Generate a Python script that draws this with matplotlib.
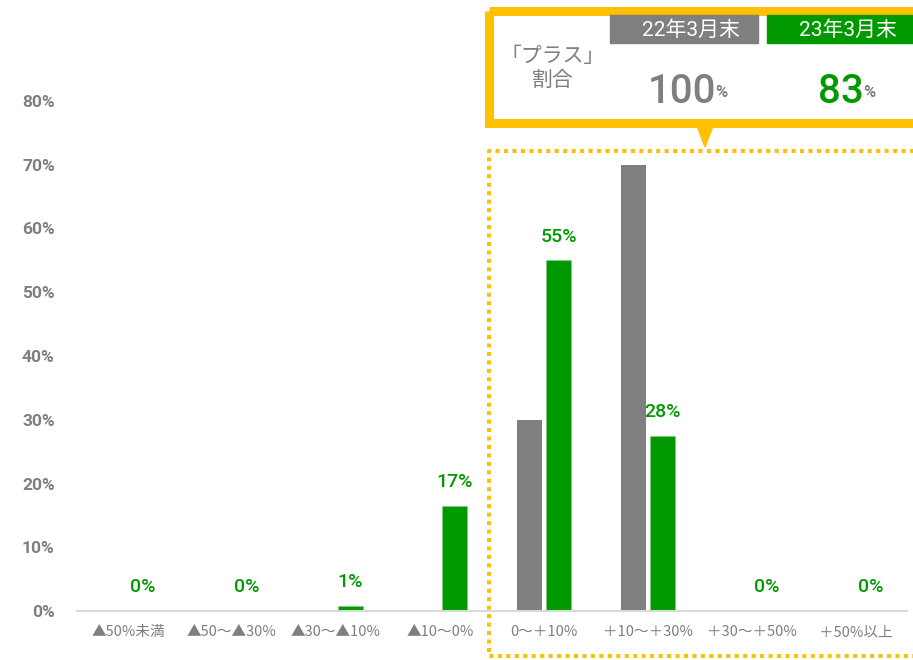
import matplotlib
matplotlib.use('Agg')
import matplotlib.pyplot as plt
from matplotlib.patches import Rectangle, Polygon
import numpy as np

plt.rcParams['font.family'] = ['Roboto', 'Noto Sans CJK JP', 'DejaVu Sans']

# データ
categories = ['▲50%未満', '▲50～▲30%', '▲30～▲10%', '▲10～0%',
              '0～＋10%', '＋10～＋30%', '＋30～＋50%', '＋50%以上']
mar22 = [0, 0, 0, 0, 30, 70, 0, 0]
mar23 = [0, 0, 0.8, 16.5, 55, 27.5, 0, 0]
mar23_labels = ['0%', '0%', '1%', '17%', '55%', '28%', '0%', '0%']
series_names = ['22年3月末', '23年3月末']
plus_share = ['100', '83']

GRAY = '#7f7f7f'
GREEN = '#009900'
YELLOW = '#ffc000'

fig = plt.figure(figsize=(9.13, 6.6), dpi=100)
W, H = 913, 660
ax = fig.add_axes([77 / W, 49 / H, (907 - 77) / W, 510 / H])

x = np.arange(len(categories))
w = 0.24
ax.bar(x - 0.14, mar22, w, color=GRAY)
ax.bar(x + 0.14, mar23, w, color=GREEN, edgecolor='#7fd07f', linewidth=0.6)

for xi, v, lab in zip(x, mar23, mar23_labels):
    ax.annotate(lab, (xi + 0.14, v), xytext=(0, 17), textcoords='offset points',
                ha='center', va='center', color=GREEN, fontsize=14,
                fontweight='medium')

ax.set_xlim(-0.49, 7.49)
ax.set_ylim(0, 80)
ax.set_yticks(np.arange(0, 81, 10))
ax.set_yticklabels([f'{v}%' for v in range(0, 81, 10)], color=GRAY,
                   fontsize=12.5, fontweight='bold')
ax.set_xticks(x)
ax.set_xticklabels(categories, color=GRAY, fontsize=10.5,
                   family=['Noto Sans CJK JP', 'DejaVu Sans'])
ax.tick_params(axis='y', length=0, pad=16)
ax.tick_params(axis='x', length=0, pad=10)
for s in ['top', 'right', 'left']:
    ax.spines[s].set_visible(False)
ax.spines['bottom'].set_color('#d9d9d9')
ax.spines['bottom'].set_linewidth(1.5)

# 上部の吹き出し (ピクセル座標のオーバーレイ)
ov = fig.add_axes([0, 0, 1, 1], zorder=5)
ov.set_xlim(0, W)
ov.set_ylim(H, 0)
ov.axis('off')
ov.patch.set_alpha(0)

# 点線の枠
ov.plot([935, 489, 489, 935], [151, 151, 656, 656], color=YELLOW, lw=2.9,
        linestyle=(0, (1, 1.1)), dash_capstyle='butt', clip_on=False)

# 吹き出し
ov.add_patch(Rectangle((488.5, 10.5), 460, 112, fill=False, edgecolor=YELLOW,
                       lw=6.5, clip_on=False, joinstyle='miter'))
ov.add_patch(Polygon([[697, 126], [713, 126], [705, 147]], closed=True,
                     color=YELLOW, clip_on=False))

ov.add_patch(Rectangle((610, 15), 148, 28, color=GRAY))
ov.add_patch(Rectangle((767, 15), 160, 28, color=GREEN, clip_on=False))
ov.text(691, 30, series_names[0], ha='center', va='center', color='white',
        fontsize=15)
ov.text(848, 30, series_names[1], ha='center', va='center', color='white',
        fontsize=15)

ov.text(553, 56, '「プラス」', ha='center', va='center', color=GRAY,
        fontsize=15, family=['Noto Sans CJK JP'])
ov.text(553, 80, '割合', ha='center', va='center', color=GRAY,
        fontsize=15, family=['Noto Sans CJK JP'])

ov.text(716, 103, plus_share[0], ha='right', va='baseline', color=GRAY,
        fontsize=29, fontweight='medium')
ov.text(715, 97, '%', ha='left', va='baseline', color=GRAY,
        fontsize=12, fontweight='bold')
ov.text(864, 103, plus_share[1], ha='right', va='baseline', color=GREEN,
        fontsize=29, fontweight='medium')
ov.text(863, 97, '%', ha='left', va='baseline', color=GRAY,
        fontsize=12, fontweight='bold')

fig.savefig('out.png', dpi=100)
